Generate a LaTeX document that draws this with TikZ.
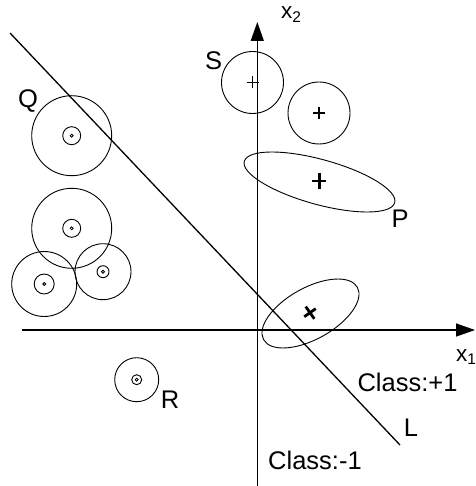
\documentclass[tikz,border=0pt]{standalone}
\usepackage{fontspec}
\setmainfont{Liberation Sans}
\usetikzlibrary{arrows.meta}
\begin{document}
\begin{tikzpicture}[x=1pt,y=1pt,
  axis/.style={line width=1.4pt, -{Triangle[length=19pt,width=13pt]}},
  sepline/.style={line width=1.3pt},
  ring/.style={line width=0.9pt},
  dotring/.style={line width=0.8pt},
  lbl/.style={font=\fontsize{25.5}{25.5}\selectfont, inner sep=0pt},
  axlbl/.style={font=\fontsize{22.5}{22.5}\selectfont, inner sep=0pt},
  thinplus/.pic={\draw[line width=1.6pt] (-6,0)--(6,0) (0,-6)--(0,6);},
  boldplus/.pic={\draw[line width=2.8pt] (-7,0)--(7,0) (0,-7.5)--(0,7.5);}]
\useasboundingbox (0,0) rectangle (475,-486);
% axes
\coordinate (ybot) at (257.3,-486);
\coordinate (ytop) at (257.3,-22);
\coordinate (xleft) at (22,-330);
\coordinate (xright) at (475,-330);
\draw[axis] (ybot) -- (ytop);
\draw[axis] (xleft) -- (xright);
\node[axlbl, anchor=base west] (x2) at (281,-18.5) {x\raisebox{-0.3ex}{\fontsize{15.5}{15.5}\selectfont 2}};
\node[axlbl, anchor=base west] (x1) at (456,-361) {x\raisebox{-0.3ex}{\fontsize{15.5}{15.5}\selectfont 1}};
% separating line L
\coordinate (La) at (10,-33);
\coordinate (Lb) at (400,-445);
\draw[sepline] (La) -- (Lb);
% negative class circles
\foreach \cx/\cy/\R/\r in {71.7/135.7/40/9, 71.7/228.3/40/9, 44.2/284/32.5/10, 103/271.7/28/6, 136.7/379.7/22/5}{
  \draw[ring] (\cx,-\cy) circle[radius=\R];
  \draw[ring] (\cx,-\cy) circle[radius=\r];
  \draw[dotring] (\cx,-\cy) circle[radius=1.5];
}
% positive class
\draw[ring] (252.5,-82.5) circle[radius=31];
\pic at (252.5,-82.5) {thinplus};
\draw[ring] (319,-113) circle[radius=31];
\pic at (319,-113) {thinplus};
\draw[ring, rotate around={-15.4:(319.5,-182)}] (319.5,-182) ellipse[x radius=78, y radius=22.5];
\pic at (319.3,-181) {boldplus};
\draw[ring, rotate around={29.2:(310.5,-313.5)}] (310.5,-313.5) ellipse[x radius=53.7, y radius=25.7];
\pic[rotate=35] at (310,-312.7) {boldplus};
% labels
\node[lbl] (S) at (213.5,-61) {S};
\node[lbl] (Q) at (28,-101) {Q};
\node[lbl] (P) at (400,-219) {P};
\node[lbl] (R) at (170,-400) {R};
\node[lbl] (L) at (411,-428) {L};
\node[lbl] (cp) at (407.5,-382.5) {Class:+1};
\node[lbl] (cm) at (315,-460.5) {Class:-1};
\end{tikzpicture}
\end{document}
